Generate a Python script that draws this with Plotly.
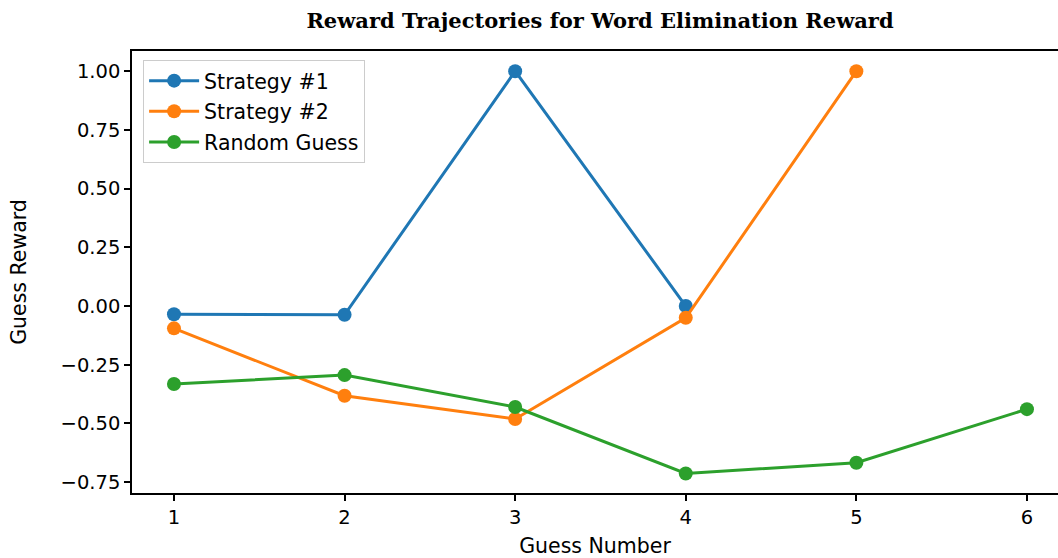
import plotly.graph_objects as go

# Guess index and per-guess rewards for each strategy
guess_s1 = [1, 2, 3, 4]
reward_s1 = [-0.035, -0.037, 1.0, 0.0]

guess_s2 = [1, 2, 3, 4, 5]
reward_s2 = [-0.095, -0.382, -0.481, -0.050, 1.0]

guess_rand = [1, 2, 3, 4, 5, 6]
reward_rand = [-0.332, -0.294, -0.430, -0.713, -0.667, -0.439]

series_names = ["Strategy #1", "Strategy #2", "Random Guess"]
series_colors = ["#1f77b4", "#ff7f0e", "#2ca02c"]

x_ticks = [1, 2, 3, 4, 5, 6]
y_ticks = [-0.75, -0.5, -0.25, 0.0, 0.25, 0.5, 0.75, 1.0]
y_tick_text = ["\u22120.75", "\u22120.50", "\u22120.25", "0.00", "0.25", "0.50", "0.75", "1.00"]

fig = go.Figure()
for name, color, xs, ys in zip(
    series_names,
    series_colors,
    [guess_s1, guess_s2, guess_rand],
    [reward_s1, reward_s2, reward_rand],
):
    fig.add_trace(
        go.Scatter(
            x=xs,
            y=ys,
            name=name,
            legendgroup=name,
            mode="lines+markers",
            line=dict(color=color, width=3),
            marker=dict(color=color, size=14),
            cliponaxis=False,
        )
    )

tick_font = dict(family="DejaVu Sans", size=19.5, color="#000000")
label_font = dict(family="DejaVu Sans", size=20.5, color="#000000")

fig.update_layout(
    width=1058,
    height=558,
    margin=dict(l=132, r=0, t=51, b=65, autoexpand=False),
    paper_bgcolor="white",
    plot_bgcolor="white",
    title=dict(
        text="<b>Reward Trajectories for Word Elimination Reward</b>",
        font=dict(family="DejaVu Serif", size=21, color="#000000"),
        xref="container",
        x=600 / 1058,
        xanchor="center",
        yref="container",
        y=1 - 21 / 558,
        yanchor="middle",
    ),
    legend=dict(
        x=0.012,
        y=0.98,
        xanchor="left",
        yanchor="top",
        bgcolor="rgba(255,255,255,0.8)",
        bordercolor="#cccccc",
        borderwidth=1,
        font=label_font,
        tracegroupgap=1,
        itemwidth=50,
    ),
    xaxis=dict(
        range=[0.754, 6.182],
        tickvals=x_ticks,
        ticks="outside",
        ticklen=6,
        tickwidth=1.5,
        tickcolor="#000000",
        showline=True,
        linecolor="#000000",
        linewidth=1.5,
        mirror=True,
        showgrid=False,
        zeroline=False,
        automargin=False,
        tickfont=tick_font,
        title=dict(text="Guess Number", font=label_font, standoff=16),
    ),
    yaxis=dict(
        range=[-0.796, 1.086],
        tickvals=y_ticks,
        ticktext=y_tick_text,
        ticks="outside",
        ticklen=6,
        tickwidth=1.5,
        tickcolor="#000000",
        showline=True,
        linecolor="#000000",
        linewidth=1.5,
        mirror=False,
        showgrid=False,
        zeroline=False,
        automargin=False,
        tickfont=tick_font,
        title=dict(text="Guess Reward", font=label_font, standoff=28),
    ),
)

fig.write_html("out.html")
